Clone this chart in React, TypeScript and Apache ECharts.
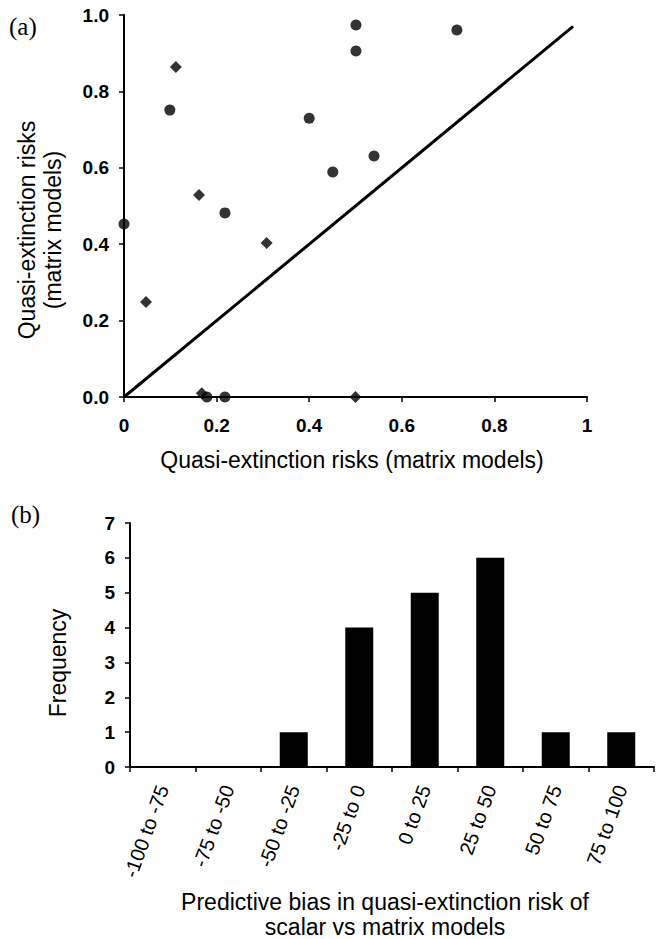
import React, { useEffect, useRef } from "react";
import * as echarts from "echarts";

// Panel (a): scalar vs matrix quasi-extinction risks
const circlePoints: number[][] = [
  [0.0, 0.453],
  [0.099, 0.751],
  [0.218, 0.482],
  [0.4, 0.73],
  [0.451, 0.589],
  [0.501, 0.974],
  [0.501, 0.906],
  [0.54, 0.631],
  [0.719, 0.961],
  [0.179, 0.0],
  [0.218, 0.0],
];
const diamondPoints: number[][] = [
  [0.112, 0.864],
  [0.162, 0.529],
  [0.0475, 0.249],
  [0.308, 0.403],
  [0.168, 0.01],
  [0.5, 0.0],
];
const diagonal: number[][] = [
  [0, 0],
  [0.97, 0.97],
];

// Panel (b): histogram of predictive bias
const binLabels = [
  "-100 to -75",
  "-75 to -50",
  "-50 to -25",
  "-25 to 0",
  "0 to 25",
  "25 to 50",
  "50 to 75",
  "75 to 100",
];
const binCounts = [0, 0, 1, 4, 5, 6, 1, 1];

const SANS = "'Liberation Sans', Arial, Helvetica, sans-serif";
const SERIF = "'Liberation Serif', 'Times New Roman', serif";

function txt(x: number, y: number, text: string, size: number, family: string, rotation = 0, align = "center") {
  return {
    type: "text",
    x,
    y,
    rotation,
    style: {
      text,
      font: `${size}px ${family}`,
      fill: "#000",
      align,
      verticalAlign: "middle",
      textAlign: align,
      textVerticalAlign: "middle",
    },
  };
}

export default function App() {
  const ref = useRef<HTMLDivElement>(null);
  useEffect(() => {
    if (!ref.current) return;
    const chart = echarts.init(ref.current, undefined, { renderer: "svg" });
    const axisLine = { show: true, lineStyle: { color: "#000", width: 2 } };
    const axisTick = { show: true, inside: false, length: 5, lineStyle: { color: "#000", width: 1.5 } };
    const labelBase = { color: "#000", fontSize: 20, fontFamily: SANS };
    const numLabel = { color: "#000", fontSize: 19, fontWeight: "bold", fontFamily: SANS };
    chart.setOption({
      animation: false,
      backgroundColor: "#fff",
      grid: [
        { left: 124, top: 15, width: 463, height: 382 },
        { left: 130, top: 523, width: 524, height: 244 },
      ],
      xAxis: [
        {
          gridIndex: 0,
          type: "value",
          min: 0,
          max: 1,
          interval: 0.2,
          axisLine,
          axisTick,
          splitLine: { show: false },
          axisLabel: {
            ...numLabel,
            margin: 19,
            formatter: (v: number) => (v === 0 ? "0" : v === 1 ? "1" : v.toFixed(1)),
          },
        },
        {
          gridIndex: 1,
          type: "category",
          data: binLabels,
          boundaryGap: true,
          axisLine,
          axisTick: { ...axisTick, alignWithLabel: false },
          splitLine: { show: false },
          axisLabel: { ...labelBase, rotate: 70, margin: 19, interval: 0 },
        },
      ],
      yAxis: [
        {
          gridIndex: 0,
          type: "value",
          min: 0,
          max: 1,
          interval: 0.2,
          axisLine,
          axisTick,
          splitLine: { show: false },
          axisLabel: { ...numLabel, margin: 15, formatter: (v: number) => v.toFixed(1) },
        },
        {
          gridIndex: 1,
          type: "value",
          min: 0,
          max: 7,
          interval: 1,
          axisLine,
          axisTick,
          splitLine: { show: false },
          axisLabel: { ...numLabel, margin: 15 },
        },
      ],
      series: [
        {
          type: "line",
          xAxisIndex: 0,
          yAxisIndex: 0,
          data: diagonal,
          showSymbol: false,
          symbol: "none",
          lineStyle: { color: "#000", width: 3 },
          z: 2,
        },
        {
          type: "scatter",
          xAxisIndex: 0,
          yAxisIndex: 0,
          data: circlePoints,
          symbol: "circle",
          symbolSize: 11,
          itemStyle: { color: "#000" },
          z: 3,
        },
        {
          type: "scatter",
          xAxisIndex: 0,
          yAxisIndex: 0,
          data: diamondPoints,
          symbol: "diamond",
          symbolSize: 12,
          itemStyle: { color: "#000" },
          z: 3,
        },
        {
          type: "bar",
          xAxisIndex: 1,
          yAxisIndex: 1,
          data: binCounts,
          barWidth: 28,
          itemStyle: { color: "#000" },
        },
      ],
      graphic: [
        txt(9, 26, "(a)", 25, SERIF, 0, "left"),
        txt(27, 230, "Quasi-extinction risks", 23, SANS, Math.PI / 2),
        txt(53, 230, "(matrix models)", 23, SANS, Math.PI / 2),
        txt(352, 460, "Quasi-extinction risks (matrix models)", 23, SANS),
        txt(11, 514, "(b)", 25, SERIF, 0, "left"),
        txt(58, 663, "Frequency", 23, SANS, Math.PI / 2),
        txt(385, 902, "Predictive bias in quasi-extinction risk of", 23, SANS),
        txt(385, 927, "scalar vs matrix models", 23, SANS),
      ],
    });
    return () => chart.dispose();
  }, []);
  return (
    <div
      ref={ref}
      style={{ position: "absolute", left: 0, top: 0, width: 659, height: 939, background: "#fff" }}
    />
  );
}
